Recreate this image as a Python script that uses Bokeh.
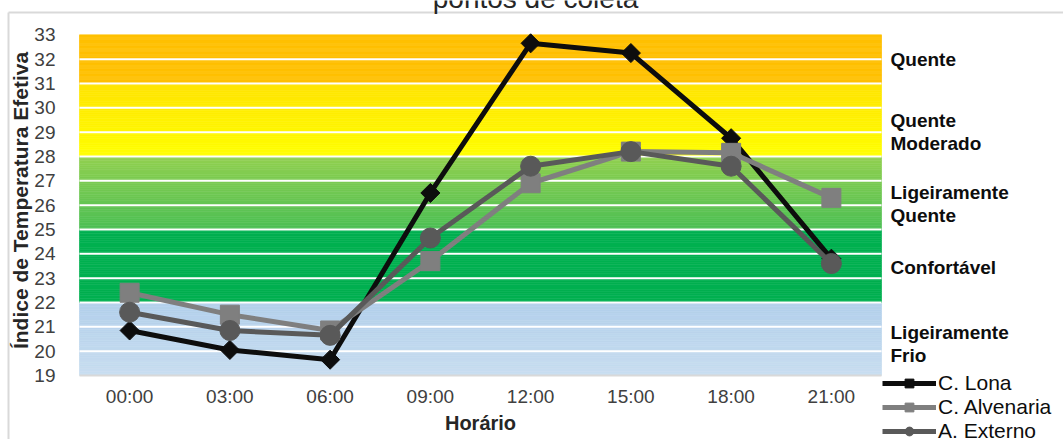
import numpy as np
from bokeh.plotting import figure
from bokeh.models import (Label, Legend, LegendItem, FixedTicker, Range1d, LinearAxis)
from bokeh.embed import file_html
from bokeh.resources import INLINE

# Effective temperature index at each sampling time
hours = ["00:00", "03:00", "06:00", "09:00", "12:00", "15:00", "18:00", "21:00"]
lona = [20.85, 20.05, 19.65, 26.5, 32.65, 32.25, 28.75, 23.8]
alvenaria = [22.4, 21.5, 20.85, 23.7, 26.9, 28.2, 28.15, 26.3]
externo = [21.6, 20.85, 20.65, 24.65, 27.6, 28.2, 27.6, 23.6]

y_ticks = list(range(19, 34))

# Thermal comfort zones (lower, upper bound) and their names
zone_lower = [19, 22, 25, 28, 31]
zone_upper = [22, 25, 28, 31, 33]
zone_bottom_color = ["#c8ddf0", "#00b050", "#4cbf55", "#ffff00", "#ffc000"]
zone_top_color = ["#b3d0eb", "#00b050", "#92d050", "#ffe400", "#ffc000"]
zone_names = ["Ligeiramente\nFrio", "Confortável", "Ligeiramente\nQuente",
              "Quente\nModerado", "Quente"]
zone_label_y = [20.3, 23.45, 26.05, 29.0, 32.0]

FONT = "Liberation Sans"
W, H = 1063, 439
x = list(range(len(hours)))

# Plot area in pixels; the frame covers the whole canvas so that the
# zone names, legend and title can sit around the plot area.
PX_L, PX_R, PX_T, PX_B = 79, 881, 34.3, 375
x_lo, x_hi = -0.5, len(hours) - 0.5
y_lo, y_hi = y_ticks[0], y_ticks[-1]
sx = (PX_R - PX_L) / (x_hi - x_lo)
sy = (PX_B - PX_T) / (y_hi - y_lo)
x_range = Range1d(x_lo - PX_L / sx, x_hi + (W - PX_R) / sx)
y_range = Range1d(y_lo - (H - PX_B) / sy, y_hi + PX_T / sy)


def px_x(px):
    return x_range.start + px / sx


def px_y(py):
    return y_range.end - py / sy


p = figure(width=W, height=H, x_range=x_range, y_range=y_range,
           output_backend="svg", toolbar_location=None,
           x_axis_location=None, y_axis_location=None,
           min_border=0, min_border_left=0, min_border_right=0,
           min_border_top=0, min_border_bottom=0)
p.outline_line_color = None
p.background_fill_color = "white"
p.border_fill_color = "white"
p.grid.visible = False


def hex_to_rgb(h):
    h = h.lstrip("#")
    return np.array([int(h[i:i + 2], 16) for i in (0, 2, 4)], dtype=float)


# Comfort bands, each shaded as a vertical gradient made of thin slices
n_slices = 40
for lo, hi, c0, c1 in zip(zone_lower, zone_upper, zone_bottom_color, zone_top_color):
    edges = np.linspace(lo, hi, n_slices + 1)
    a, b = hex_to_rgb(c0), hex_to_rgb(c1)
    cols = []
    for k in range(n_slices):
        t = (k + 0.5) / n_slices
        r, g, bl = (a + (b - a) * t).round().astype(int)
        cols.append("#%02x%02x%02x" % (r, g, bl))
    p.quad(left=x_lo, right=x_hi, bottom=edges[:-1], top=edges[1:],
           fill_color=cols, line_color=cols, line_width=0.6, level="image")

# White horizontal grid lines across the bands
grid_y = y_ticks[1:-1]
p.segment(x0=[x_lo] * len(grid_y), x1=[x_hi] * len(grid_y), y0=grid_y, y1=grid_y,
          line_color="white", line_width=2, level="underlay")

# Chart area border (left and top edges)
p.segment(x0=[px_x(8), px_x(8)], y0=[px_y(12), px_y(12)],
          x1=[px_x(8), px_x(W + 5)], y1=[px_y(H + 5), px_y(12)],
          line_color="#d9d9d9", line_width=2, level="underlay")

# Series
l1 = p.line(x, lona, line_color="#0d0d0d", line_width=5)
s1 = p.scatter(x, lona, marker="square", angle=np.pi / 4, size=13.5,
               fill_color="#0d0d0d", line_color="#0d0d0d")
l2 = p.line(x, alvenaria, line_color="#7f7f7f", line_width=5)
s2 = p.scatter(x, alvenaria, marker="square", size=19,
               fill_color="#7f7f7f", line_color="#7f7f7f")
l3 = p.line(x, externo, line_color="#595959", line_width=5)
s3 = p.scatter(x, externo, marker="circle", size=20,
               fill_color="#595959", line_color="#595959")

# Axes pinned to the edges of the plot area
yaxis = LinearAxis(fixed_location=x_lo, bounds=(y_lo, y_hi + 0.37),
                   ticker=FixedTicker(ticks=y_ticks))
yaxis.major_tick_line_color = None
yaxis.minor_tick_line_color = None
yaxis.axis_line_color = None
yaxis.major_label_text_font = FONT
yaxis.major_label_text_font_size = "19px"
yaxis.major_label_text_color = "#404040"
yaxis.major_label_standoff = 18
yaxis.axis_label = "Índice de Temperatura Efetiva"
yaxis.axis_label_text_font = FONT
yaxis.axis_label_text_font_size = "21px"
yaxis.axis_label_text_font_style = "bold"
yaxis.axis_label_text_color = "#262626"
yaxis.axis_label_standoff = -1
p.add_layout(yaxis, "left")

xaxis = LinearAxis(fixed_location=y_lo, bounds=(x_lo, x_hi), ticker=FixedTicker(ticks=x))
xaxis.major_label_overrides = {i: h for i, h in enumerate(hours)}
xaxis.major_tick_line_color = None
xaxis.minor_tick_line_color = None
xaxis.axis_line_color = "#d9d9d9"
xaxis.axis_line_width = 2
xaxis.major_label_text_font = FONT
xaxis.major_label_text_font_size = "19px"
xaxis.major_label_text_color = "#404040"
xaxis.major_label_standoff = 4
xaxis.axis_label = "Horário"
xaxis.axis_label_text_font = FONT
xaxis.axis_label_text_font_size = "20px"
xaxis.axis_label_text_font_style = "bold"
xaxis.axis_label_text_color = "#262626"
xaxis.axis_label_standoff = 2
p.add_layout(xaxis, "below")

# Zone names to the right of the bands
for name, yv in zip(zone_names, zone_label_y):
    p.add_layout(Label(x=x_hi + 9 / sx, y=yv, text=name, text_font=FONT, text_font_size="19px",
                       text_font_style="bold", text_color="#0d0d0d", text_align="left",
                       text_baseline="middle", text_line_height=1.1))

# Title (second line of a title that runs above the canvas)
p.add_layout(Label(x=px_x(535), y=px_y(-2), text="pontos de coleta",
                   text_font=FONT, text_font_size="28px", text_color="#262626",
                   text_align="center", text_baseline="alphabetic"))

legend = Legend(items=[LegendItem(label="C. Lona", renderers=[l1, s1]),
                       LegendItem(label="C. Alvenaria", renderers=[l2, s2]),
                       LegendItem(label="A. Externo", renderers=[l3, s3])],
                location=(882, -3.7), orientation="vertical",
                background_fill_alpha=0, border_line_color=None,
                padding=0, margin=0, spacing=0, label_height=22, glyph_height=22,
                glyph_width=54, label_standoff=2,
                label_text_font=FONT, label_text_font_size="21px", label_text_color="#0d0d0d")
p.add_layout(legend)

open("out.html", "w").write(file_html(p, INLINE))
